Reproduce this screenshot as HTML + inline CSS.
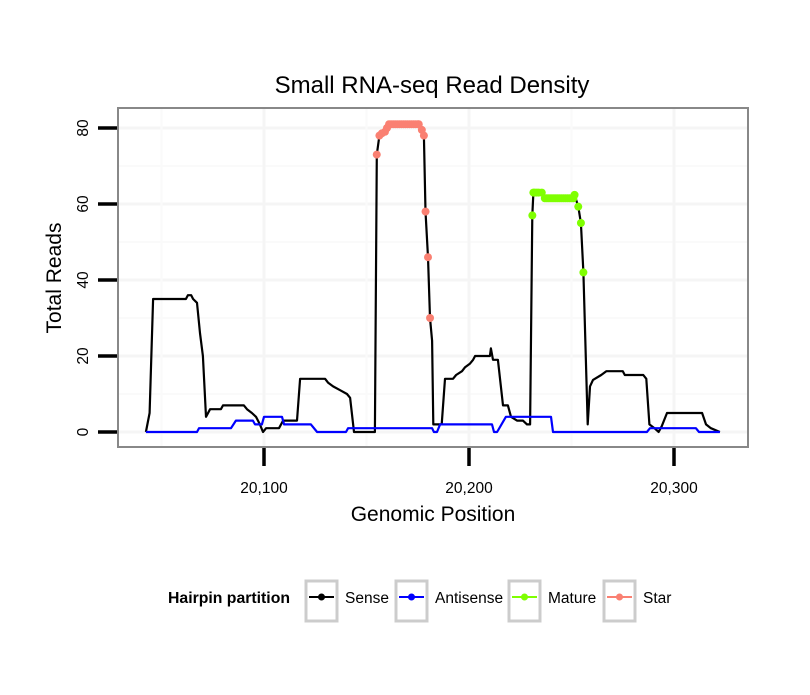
<!DOCTYPE html>
<html><head><meta charset="utf-8"><style>
body{margin:0;background:#fff;}
svg text{font-family:"Liberation Sans",sans-serif;}
</style></head><body>
<svg id="chart" width="810" height="690" viewBox="0 0 810 690" xmlns="http://www.w3.org/2000/svg">
<rect width="810" height="690" fill="#fff"/>
<text x="432" y="93" font-size="24" text-anchor="middle">Small RNA-seq Read Density</text>
<g id="grid"></g>
<g id="series"></g>
<rect x="118" y="108" width="630" height="339" fill="none" stroke="#888" stroke-width="2"/>
<g id="axes"></g>
<text transform="translate(61,278) rotate(-90)" font-size="21" text-anchor="middle">Total Reads</text>
<text x="433" y="521" font-size="21" text-anchor="middle">Genomic Position</text>
<g id="legend">
<text x="168" y="603" font-size="15.8" font-weight="bold">Hairpin partition</text>
</g>
</svg>
<script>
const senseX=[20042.4,20044.2,20045.9,20061.9,20062.9,20064.5,20065.4,20067.3,20068.8,20070.2,20071.7,20073.7,20079,20080,20090.2,20091.7,20094.1,20096.1,20098,20099.5,20101,20107.3,20109.3,20116.1,20117.6,20129.8,20131.2,20133.7,20137.1,20140.5,20142,20143.9,20154.1,20155,20156.3,20157.5,20159,20161.5,20175.5,20177,20178,20178.8,20180,20181,20182,20182.6,20186.7,20188.3,20192.2,20193.7,20196.6,20198,20200.5,20202,20203,20210.2,20210.7,20211.7,20214.1,20216.6,20219,20220.5,20223.4,20226.3,20228.3,20229.8,20230.9,20231.4,20235.5,20237,20250.9,20251.5,20253.3,20254.6,20255.8,20257.9,20259,20260.5,20264.5,20267,20275,20276,20285,20286.5,20288,20290.5,20292.5,20294,20296.6,20313.7,20315.6,20318,20322.4];
const senseY=[0,5,35,35,36,36,35,34,26,20,4,6,6,7,7,6,5,4,2,0,1,1,3,3,14,14,13,12,11,10,9,0,0,73,78,78.6,79,81,81,79.5,78,58,46,30,24,2,2,14,14,15,16,17,18,19,20,20,22,19,19,7,7,4,3,3,2,2,57,63,63,61.5,61.5,62.4,59.3,55,42,2,12,13.7,15,16,16,15,15,14,2,1,0,1.5,5,5,2,1,0];
const antiX=[20042.4,20067.3,20068.3,20083.9,20086.3,20094.6,20095.6,20099,20100,20108.8,20109.8,20122.9,20125.9,20140,20141,20182,20182.9,20184.4,20185.9,20211.2,20212.2,20213.7,20218,20240,20241,20286.8,20288.3,20310.7,20312.2,20322.4];
const antiY=[0,0,1,1,3,3,2,2,4,4,2,2,0,0,1,1,0,0,2,2,0,0,4,4,0,0,1,1,0,0];
const starX=[20155,20156.3,20157.5,20159,20160,20161,20162,20163,20164,20165,20166,20167,20168,20169,20170,20171,20172,20173,20174,20175,20175.5,20177,20178,20178.8,20180,20181];
const starY=[73,78,78.6,79,80,81,81,81,81,81,81,81,81,81,81,81,81,81,81,81,81,79.5,78,58,46,30];
const matX=[20230.9,20231.4,20232,20233,20234,20235.5,20237,20238,20239,20240,20241,20242,20243,20244,20245,20246,20247,20248,20249,20250,20250.9,20251.5,20253.3,20254.6,20255.8];
const matY=[57,63,63,63,63,63,61.5,61.5,61.5,61.5,61.5,61.5,61.5,61.5,61.5,61.5,61.5,61.5,61.5,61.5,61.5,62.4,59.3,55,42];
const yTicks=[0,20,40,60,80];
const xTicks=[20100,20200,20300];
const xTickLabels=["20,100","20,200","20,300"];
const legendLabels=["Sense","Antisense","Mature","Star"];
const legendColors=["#000000","#0000ff","#7fff00","#fa8072"];

const NS="http://www.w3.org/2000/svg";
const sx=v=>264+(v-20100)*2.05;
const sy=v=>432-v*3.8;
function mk(tag,attrs,parent){const e=document.createElementNS(NS,tag);for(const k in attrs)e.setAttribute(k,attrs[k]);parent.appendChild(e);return e;}
const grid=document.getElementById('grid'),series=document.getElementById('series'),axes=document.getElementById('axes'),legend=document.getElementById('legend');
for(let v=-10;v<=90;v+=10){const y=sy(v);if(y<109||y>446)continue;
 const l=mk('line',{x1:119,x2:747,y1:y,y2:y,stroke:(v%20===0)?'#f5f5f5':'#fafafa','stroke-width':(v%20===0)?3:2},grid);
 
 }
for(let v=20000;v<=20400;v+=50){const x=sx(v);if(x<119||x>747)continue;
 const l=mk('line',{x1:x,x2:x,y1:109,y2:446,stroke:(v%100===0)?'#f5f5f5':'#fafafa','stroke-width':(v%100===0)?3:2},grid);
 
 }
yTicks.forEach(v=>{const y=sy(v);
 const t=mk('line',{x1:98,x2:117,y1:y,y2:y,stroke:'#000','stroke-width':3.5},axes);
 
 
 const tx=mk('text',{transform:`translate(88,${y}) rotate(-90)`,'font-size':15.5,'text-anchor':'middle'},axes);
 tx.textContent=v;
 
 });
xTicks.forEach((v,i)=>{const x=sx(v);
 const t=mk('line',{x1:x,x2:x,y1:448,y2:466,stroke:'#000','stroke-width':3.5},axes);
 
 
 const tx=mk('text',{x:x,y:493,'font-size':15.5,'text-anchor':'middle'},axes);
 tx.textContent=xTickLabels[i];
 
 });
const path=(xs,ys)=>xs.map((v,i)=>(i?'L':'M')+sx(v).toFixed(1)+','+sy(ys[i]).toFixed(1)).join('');
const sl=mk('path',{d:path(senseX,senseY),fill:'none',stroke:'#000','stroke-width':2.2,'stroke-linejoin':'round'},series);


const al=mk('path',{d:path(antiX,antiY),fill:'none',stroke:'#0000ff','stroke-width':2.2,'stroke-linejoin':'round'},series);


starX.forEach((v,i)=>{const c=mk('circle',{cx:sx(v),cy:sy(starY[i]),r:4,fill:'#fa8072'},series);
 
 });
matX.forEach((v,i)=>{const c=mk('circle',{cx:sx(v),cy:sy(matY[i]),r:4,fill:'#7fff00'},series);
 
 });
const boxX=[306,396,509,604];
legendLabels.forEach((lab,i)=>{const bx=boxX[i];
 const g=mk('g',{},legend);
 
 
 mk('rect',{x:bx,y:581,width:31,height:40,fill:'#fff',stroke:'#cccccc','stroke-width':3},g);
 mk('line',{x1:bx+3,x2:bx+28,y1:597,y2:597,stroke:legendColors[i],'stroke-width':2},g);
 mk('circle',{cx:bx+15.5,cy:597,r:3.5,fill:legendColors[i]},g);
 const t=mk('text',{x:bx+39,y:603,'font-size':15.5},g);t.textContent=lab;});
</script>
</body></html>
